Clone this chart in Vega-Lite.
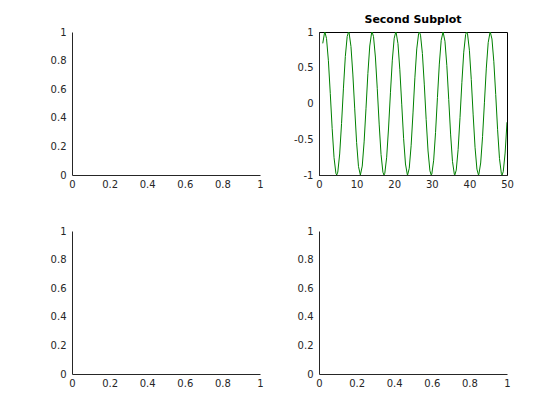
{
  "$schema": "https://vega.github.io/schema/vega-lite/v6.json",
  "background": "white",
  "padding": {"left": 50, "top": 13, "right": 0, "bottom": 0},
  "bounds": "flush",
  "columns": 2,
  "spacing": {"row": 56, "column": 59},
  "config": {
    "font": "DejaVu Sans",
    "axis": {
      "ticks": false,
      "grid": false,
      "domainColor": "#262626",
      "domainWidth": 1,
      "labelColor": "#262626",
      "labelFont": "DejaVu Sans",
      "labelFontSize": 10,
      "labelFlush": false,
      "labelOverlap": false,
      "labelBound": false,
      "labelExpr": "'' + datum.value",
      "title": null
    },
    "axisX": {"labelPadding": 4},
    "axisY": {"labelPadding": 6}
  },
  "datasets": {
    "empty": [],
    "wave": [
      {"x": 1, "y": 0.841}, {"x": 1.5, "y": 0.997}, {"x": 2, "y": 0.909}, {"x": 2.5, "y": 0.598},
      {"x": 3, "y": 0.141}, {"x": 3.5, "y": -0.351}, {"x": 4, "y": -0.757}, {"x": 4.5, "y": -0.978},
      {"x": 5, "y": -0.959}, {"x": 5.5, "y": -0.706}, {"x": 6, "y": -0.279}, {"x": 6.5, "y": 0.215},
      {"x": 7, "y": 0.657}, {"x": 7.5, "y": 0.938}, {"x": 8, "y": 0.989}, {"x": 8.5, "y": 0.798},
      {"x": 9, "y": 0.412}, {"x": 9.5, "y": -0.075}, {"x": 10, "y": -0.544}, {"x": 10.5, "y": -0.88},
      {"x": 11, "y": -1.0}, {"x": 11.5, "y": -0.875}, {"x": 12, "y": -0.537}, {"x": 12.5, "y": -0.066},
      {"x": 13, "y": 0.42}, {"x": 13.5, "y": 0.804}, {"x": 14, "y": 0.991}, {"x": 14.5, "y": 0.935},
      {"x": 15, "y": 0.65}, {"x": 15.5, "y": 0.207}, {"x": 16, "y": -0.288}, {"x": 16.5, "y": -0.712},
      {"x": 17, "y": -0.961}, {"x": 17.5, "y": -0.976}, {"x": 18, "y": -0.751}, {"x": 18.5, "y": -0.343},
      {"x": 19, "y": 0.15}, {"x": 19.5, "y": 0.606}, {"x": 20, "y": 0.913}, {"x": 20.5, "y": 0.997},
      {"x": 21, "y": 0.837}, {"x": 21.5, "y": 0.472}, {"x": 22, "y": -0.009}, {"x": 22.5, "y": -0.487},
      {"x": 23, "y": -0.846}, {"x": 23.5, "y": -0.998}, {"x": 24, "y": -0.906}, {"x": 24.5, "y": -0.591},
      {"x": 25, "y": -0.132}, {"x": 25.5, "y": 0.359}, {"x": 26, "y": 0.763}, {"x": 26.5, "y": 0.979},
      {"x": 27, "y": 0.956}, {"x": 27.5, "y": 0.699}, {"x": 28, "y": 0.271}, {"x": 28.5, "y": -0.224},
      {"x": 29, "y": -0.664}, {"x": 29.5, "y": -0.941}, {"x": 30, "y": -0.988}, {"x": 30.5, "y": -0.793},
      {"x": 31, "y": -0.404}, {"x": 31.5, "y": 0.084}, {"x": 32, "y": 0.551}, {"x": 32.5, "y": 0.884},
      {"x": 33, "y": 1.0}, {"x": 33.5, "y": 0.871}, {"x": 34, "y": 0.529}, {"x": 34.5, "y": 0.057},
      {"x": 35, "y": -0.428}, {"x": 35.5, "y": -0.809}, {"x": 36, "y": -0.992}, {"x": 36.5, "y": -0.932},
      {"x": 37, "y": -0.644}, {"x": 37.5, "y": -0.198}, {"x": 38, "y": 0.296}, {"x": 38.5, "y": 0.718},
      {"x": 39, "y": 0.964}, {"x": 39.5, "y": 0.974}, {"x": 40, "y": 0.745}, {"x": 40.5, "y": 0.334},
      {"x": 41, "y": -0.159}, {"x": 41.5, "y": -0.612}, {"x": 42, "y": -0.917}, {"x": 42.5, "y": -0.996},
      {"x": 43, "y": -0.832}, {"x": 43.5, "y": -0.464}, {"x": 44, "y": 0.018}, {"x": 44.5, "y": 0.495},
      {"x": 45, "y": 0.851}, {"x": 45.5, "y": 0.999}, {"x": 46, "y": 0.902}, {"x": 46.5, "y": 0.584},
      {"x": 47, "y": 0.124}, {"x": 47.5, "y": -0.367}, {"x": 48, "y": -0.768}, {"x": 48.5, "y": -0.981},
      {"x": 49, "y": -0.954}, {"x": 49.5, "y": -0.693}, {"x": 50, "y": -0.262},
      {"x": 1.571, "y": 1}, {"x": 4.712, "y": -1}, {"x": 7.854, "y": 1}, {"x": 10.996, "y": -1},
      {"x": 14.137, "y": 1}, {"x": 17.279, "y": -1}, {"x": 20.42, "y": 1}, {"x": 23.562, "y": -1},
      {"x": 26.704, "y": 1}, {"x": 29.845, "y": -1}, {"x": 32.987, "y": 1}, {"x": 36.128, "y": -1},
      {"x": 39.27, "y": 1}, {"x": 42.412, "y": -1}, {"x": 45.553, "y": 1}, {"x": 48.695, "y": -1}
    ]
  },
  "concat": [
    {
      "width": 188, "height": 143,
      "view": {"stroke": null},
      "data": {"name": "empty"},
      "mark": "point",
      "encoding": {
        "x": {"field": "x", "type": "quantitative", "scale": {"domain": [0, 1], "nice": false, "zero": false}, "axis": {"values": [0, 0.2, 0.4, 0.6, 0.8, 1]}},
        "y": {"field": "y", "type": "quantitative", "scale": {"domain": [0, 1], "nice": false, "zero": false}, "axis": {"values": [0, 0.2, 0.4, 0.6, 0.8, 1]}}
      }
    },
    {
      "width": 188, "height": 143,
      "view": {"stroke": "#000000", "strokeWidth": 1},
      "title": {"text": "Second Subplot", "font": "DejaVu Sans", "fontSize": 11, "fontWeight": "bold", "color": "#000000", "frame": "group", "baseline": "alphabetic", "offset": -7},
      "data": {"name": "wave"},
      "mark": {"type": "line", "color": "#008000", "strokeWidth": 1, "clip": true},
      "encoding": {
        "x": {"field": "x", "type": "quantitative", "scale": {"domain": [0, 50], "nice": false, "zero": false}, "axis": {"values": [0, 10, 20, 30, 40, 50]}},
        "y": {"field": "y", "type": "quantitative", "scale": {"domain": [-1, 1], "nice": false, "zero": false}, "axis": {"values": [-1, -0.5, 0, 0.5, 1]}}
      }
    },
    {
      "width": 188, "height": 143,
      "view": {"stroke": null},
      "data": {"name": "empty"},
      "mark": "point",
      "encoding": {
        "x": {"field": "x", "type": "quantitative", "scale": {"domain": [0, 1], "nice": false, "zero": false}, "axis": {"values": [0, 0.2, 0.4, 0.6, 0.8, 1]}},
        "y": {"field": "y", "type": "quantitative", "scale": {"domain": [0, 1], "nice": false, "zero": false}, "axis": {"values": [0, 0.2, 0.4, 0.6, 0.8, 1]}}
      }
    },
    {
      "width": 188, "height": 143,
      "view": {"stroke": null},
      "data": {"name": "empty"},
      "mark": "point",
      "encoding": {
        "x": {"field": "x", "type": "quantitative", "scale": {"domain": [0, 1], "nice": false, "zero": false}, "axis": {"values": [0, 0.2, 0.4, 0.6, 0.8, 1]}},
        "y": {"field": "y", "type": "quantitative", "scale": {"domain": [0, 1], "nice": false, "zero": false}, "axis": {"values": [0, 0.2, 0.4, 0.6, 0.8, 1]}}
      }
    }
  ]
}
